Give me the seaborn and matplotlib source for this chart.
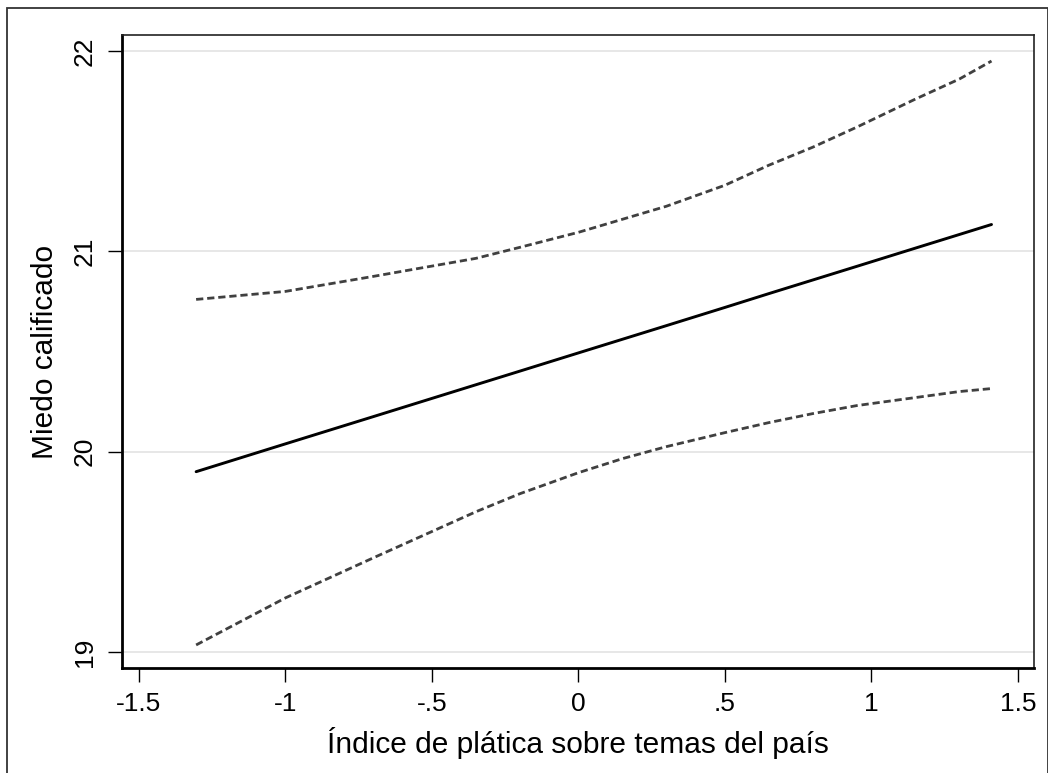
import matplotlib
matplotlib.use("Agg")
import matplotlib.pyplot as plt
from matplotlib.patches import Rectangle
import seaborn as sns
import pandas as pd

# Predicted fear score with 95% confidence band over the conversation index
x_vals = [-1.305, -1.0, -0.7, -0.35, -0.2, 0.0, 0.15, 0.3, 0.5, 0.65, 0.8, 0.95, 1.15, 1.3, 1.41]
fitted = [19.90, 20.039, 20.175, 20.334, 20.402, 20.493, 20.561, 20.629, 20.720, 20.789,
          20.857, 20.925, 21.016, 21.084, 21.134]
upper = [20.76, 20.80, 20.875, 20.965, 21.02, 21.095, 21.16, 21.225, 21.33, 21.43,
         21.52, 21.62, 21.76, 21.86, 21.95]
lower = [19.035, 19.27, 19.47, 19.70, 19.79, 19.895, 19.965, 20.025, 20.095, 20.145,
         20.19, 20.23, 20.27, 20.30, 20.315]

x_ticks = [-1.5, -1.0, -0.5, 0.0, 0.5, 1.0, 1.5]
x_tick_labels = ["-1.5", "-1", "-.5", "0", ".5", "1", "1.5"]
y_ticks = [19, 20, 21, 22]
y_tick_labels = ["19", "20", "21", "22"]

df = pd.DataFrame({"x": x_vals, "fitted": fitted, "upper": upper, "lower": lower})

sns.set_theme(style="white")
plt.rcParams["font.family"] = ["Liberation Sans", "DejaVu Sans"]

fig = plt.figure(figsize=(10.48, 7.73), dpi=100)
ax = fig.add_axes([122 / 1048, 105 / 773, 912 / 1048, 633 / 773])

band_kw = dict(color="#404040", linewidth=2.0, linestyle=(0, (2.6, 1.4)))
sns.lineplot(data=df, x="x", y="upper", ax=ax, **band_kw)
sns.lineplot(data=df, x="x", y="lower", ax=ax, **band_kw)
sns.lineplot(data=df, x="x", y="fitted", ax=ax, color="black", linewidth=2.1)

ax.set_xlim(-1.558, 1.555)
ax.set_ylim(18.92, 22.08)

ax.set_xticks(x_ticks)
ax.set_xticklabels(x_tick_labels)
ax.set_yticks(y_ticks)
ax.set_yticklabels(y_tick_labels, rotation=90, va="center")

ax.grid(axis="y", color="#e3e3e3", linewidth=1.2)
ax.grid(axis="x", visible=False)
ax.set_axisbelow(True)

ax.tick_params(axis="both", direction="out", length=10, width=1.0, color="black",
               labelsize=19, colors="black", left=True, bottom=True)
ax.tick_params(axis="x", pad=7)
ax.tick_params(axis="y", pad=8)

for side in ["left", "bottom"]:
    ax.spines[side].set_linewidth(2.0)
    ax.spines[side].set_color("black")
for side in ["top", "right"]:
    ax.spines[side].set_linewidth(1.2)
    ax.spines[side].set_color("#222222")
    ax.spines[side].set_visible(True)

ax.set_xlabel("Índice de plática sobre temas del país", fontsize=21.5, labelpad=8, color="black")
ax.set_ylabel("Miedo calificado", fontsize=21.5, labelpad=10, color="black")

# outer frame around the whole graph
fig.patches.append(Rectangle((7 / 1048, -0.01), 1041 / 1048, 1 - 8 / 773 + 0.01,
                             transform=fig.transFigure, fill=False,
                             edgecolor="#333333", linewidth=1.3, clip_on=False))

fig.savefig("out.png", dpi=100, facecolor="white")
